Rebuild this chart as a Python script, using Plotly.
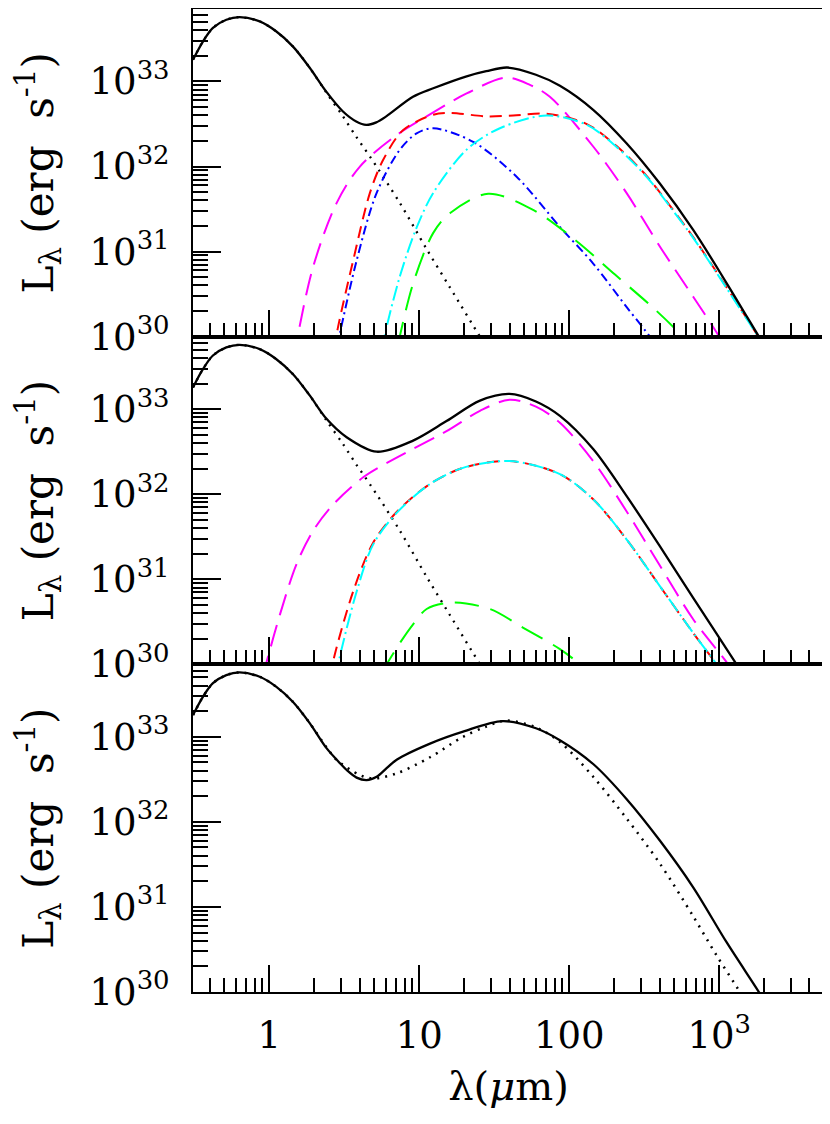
import math
import plotly.graph_objects as go
from plotly.subplots import make_subplots

# wavelengths in micron, luminosities in erg/s

# stellar photosphere (dotted in the top two panels, start of every total curve)
star_wl = [0.31, 0.361, 0.421, 0.517, 0.635, 0.863, 1.11, 1.44, 1.86, 2.40, 3.10, 3.80, 4.69, 7.43, 11.2, 16.0, 25.4, 30]
star_L = [1.80e33, 2.95e33, 4.27e33, 5.32e33, 5.71e33, 5.08e33, 3.89e33, 2.57e33, 1.45e33, 7.41e32, 3.89e32, 2.24e32, 1.31e32, 3.72e31, 1.07e31, 3.80e30, 1.00e30, 6.2e29]

# ---- top panel ----
p1_total_wl = [0.31, 0.361, 0.421, 0.517, 0.635, 0.863, 1.11, 1.44, 1.86, 2.40, 3.10, 3.80, 4.43, 5.17, 6.03, 9.08, 12.4, 20.7, 28, 38.5, 60, 86.7, 144.5, 241, 402, 671, 1120, 1840, 2100]
p1_total_L = [1.80e33, 2.95e33, 4.27e33, 5.32e33, 5.71e33, 5.08e33, 3.89e33, 2.57e33, 1.45e33, 7.59e32, 4.44e32, 3.39e32, 3.09e32, 3.31e32, 3.89e32, 6.61e32, 8.32e32, 1.15e33, 1.32e33, 1.46e33, 1.20e33, 8.91e32, 4.65e32, 1.88e32, 6.31e31, 1.80e31, 4.27e30, 1.00e30, 6.8e29]

p1_mag_wl = [1.45, 1.56, 1.96, 2.81, 4.02, 7.07, 11.2, 20.7, 38, 54.7, 74.3, 144.5, 241, 402, 671, 1000, 1150]
p1_mag_L = [5.6e29, 1.10e30, 6.61e30, 3.72e31, 1.00e32, 2.34e32, 3.89e32, 7.24e32, 1.11e33, 9.12e32, 6.61e32, 1.72e32, 4.90e31, 1.15e31, 2.95e30, 1.00e30, 6.3e29]

p1_red_wl = [2.70, 2.88, 3.63, 4.69, 5.75, 7.82, 12.4, 16.0, 28.1, 42.3, 70.7, 131, 207, 328, 469, 671, 961, 1374, 1820, 2000]
p1_red_L = [7.1e29, 1.32e30, 7.94e30, 4.90e31, 1.20e32, 2.69e32, 4.07e32, 4.27e32, 3.89e32, 3.98e32, 4.17e32, 3.16e32, 1.74e32, 7.76e31, 3.47e31, 1.48e31, 5.75e30, 2.19e30, 1.00e30, 7.4e29]

p1_blue_wl = [2.85, 2.96, 3.83, 5.2, 7.43, 9.6, 12.4, 22.9, 44.6, 86.7, 144.5, 241, 345, 400]
p1_blue_L = [7.9e29, 1.10e30, 7.94e30, 4.90e31, 1.58e32, 2.45e32, 2.82e32, 1.95e32, 7.59e31, 1.95e31, 7.24e30, 2.24e30, 1.00e30, 6.8e29]

p1_cyan_wl = [5.7, 5.9, 7.43, 9.6, 12.4, 20.7, 34.5, 70.7, 131, 207, 328, 469, 671, 961, 1374, 1820, 2000]
p1_cyan_L = [7.1e29, 1.05e30, 5.13e30, 1.91e31, 4.90e31, 1.58e32, 2.82e32, 3.98e32, 3.09e32, 1.70e32, 7.59e31, 3.39e31, 1.45e31, 5.62e30, 2.14e30, 1.00e30, 7.4e29]

p1_green_wl = [7.2, 7.5, 9.12, 12.4, 16.0, 28.8, 57.5, 109, 202, 373, 575, 650]
p1_green_L = [7.9e29, 1.10e30, 4.27e30, 1.66e31, 2.82e31, 4.79e31, 3.09e31, 1.38e31, 5.37e30, 2.09e30, 1.00e30, 7.9e29]

# ---- middle panel ----
p2_total_wl = [0.31, 0.361, 0.421, 0.517, 0.635, 0.863, 1.11, 1.44, 1.86, 2.40, 3.28, 5.2, 9.1, 15.2, 25.4, 40, 60, 86.7, 144.5, 241, 402, 671, 1306, 1500]
p2_total_L = [1.80e33, 2.95e33, 4.27e33, 5.32e33, 5.71e33, 5.08e33, 3.89e33, 2.57e33, 1.45e33, 7.76e32, 4.68e32, 3.16e32, 4.27e32, 7.24e32, 1.26e33, 1.51e33, 1.23e33, 8.32e32, 3.39e32, 9.55e31, 2.45e31, 6.03e30, 1.00e30, 6.8e29]

p2_mag_wl = [0.90, 0.95, 1.18, 1.52, 1.96, 2.67, 4.23, 7.07, 15.2, 25.4, 40, 60, 86.7, 144.5, 241, 402, 671, 1148, 1300]
p2_mag_L = [7.1e29, 1.00e30, 3.89e30, 1.51e31, 3.72e31, 7.59e31, 1.58e32, 2.69e32, 5.50e32, 9.55e32, 1.29e33, 1.07e33, 6.92e32, 2.45e32, 6.31e31, 1.45e31, 3.39e30, 1.00e30, 7.1e29]

p2_red_wl = [2.58, 2.64, 3.63, 4.93, 7.07, 11.8, 19.6, 40, 86.7, 144.5, 241, 402, 671, 961, 1080]
p2_red_L = [7.1e29, 1.00e30, 7.24e30, 2.69e31, 6.17e31, 1.32e32, 2.04e32, 2.45e32, 1.72e32, 8.71e31, 2.95e31, 8.32e30, 2.34e30, 1.00e30, 7.2e29]

p2_cyan_wl = [2.80, 2.88, 3.83, 4.93, 7.07, 11.8, 19.6, 40, 86.7, 144.5, 241, 402, 671, 961, 1080]
p2_cyan_L = [7.1e29, 1.00e30, 7.24e30, 2.57e31, 6.03e31, 1.32e32, 2.04e32, 2.45e32, 1.72e32, 8.71e31, 2.95e31, 8.32e30, 2.34e30, 1.00e30, 7.2e29]

p2_green_wl = [5.6, 6.06, 7.43, 9.1, 11.2, 16.5, 29.6, 49.4, 86.7, 118, 135]
p2_green_L = [7.9e29, 1.00e30, 1.78e30, 2.95e30, 4.47e30, 5.31e30, 4.47e30, 2.69e30, 1.51e30, 1.00e30, 7.9e29]

# ---- bottom panel ----
p3_model_wl = [0.31, 0.361, 0.421, 0.517, 0.635, 0.863, 1.11, 1.44, 1.86, 2.40, 2.96, 3.28, 3.82, 4.46, 5.2, 6.06, 7.07, 11.8, 19.6, 36, 60, 86.7, 144.5, 241, 402, 671, 1120, 1840, 2100]
p3_model_L = [1.80e33, 2.95e33, 4.27e33, 5.32e33, 5.71e33, 5.08e33, 3.89e33, 2.57e33, 1.45e33, 7.41e32, 4.90e32, 4.07e32, 3.31e32, 3.09e32, 3.39e32, 4.27e32, 5.37e32, 8.32e32, 1.15e33, 1.53e33, 1.26e33, 9.12e32, 4.79e32, 1.86e32, 6.03e31, 1.70e31, 3.85e30, 1.00e30, 6.8e29]

p3_other_wl = [0.31, 0.361, 0.421, 0.517, 0.635, 0.863, 1.11, 1.44, 1.86, 2.40, 2.81, 4.02, 4.93, 7.07, 11.8, 19.6, 28, 38, 60, 86.7, 144.5, 241, 402, 671, 961, 1374, 1500]
p3_other_L = [1.80e33, 2.95e33, 4.27e33, 5.32e33, 5.71e33, 5.08e33, 3.89e33, 2.57e33, 1.45e33, 7.59e32, 5.37e32, 3.55e32, 3.24e32, 3.72e32, 5.75e32, 1.00e33, 1.32e33, 1.55e33, 1.29e33, 8.71e32, 3.39e32, 1.10e32, 3.24e31, 7.76e30, 2.69e30, 1.00e30, 7.6e29]

x_tickvals = [1, 10, 100, 1000]
x_ticktext = ["1", "10", "100", "10<sup>3</sup>"]
y_tickvals = [1e30, 1e31, 1e32, 1e33]
y_ticktext = ["10<sup>30</sup>", "10<sup>31</sup>", "10<sup>32</sup>", "10<sup>33</sup>"]

FONT = "DejaVu Serif"
DOT = "2px,6px"
MAG_DASH = "22px,10px"
RED_DASH = "12px,7px"
GREEN_DASH = "24px,12px"
BLUE_DASHDOT = "9px,4px,2px,4px"
CYAN_DASHDOT = "15px,4px,2px,4px"

fig = make_subplots(rows=3, cols=1, shared_xaxes=True, vertical_spacing=0)


def curve(wl, L, color, dash, row, width=2):
    fig.add_trace(go.Scatter(x=wl, y=L, mode="lines",
                             line=dict(color=color, width=width, dash=dash, shape="spline", smoothing=0.9),
                             showlegend=False, hoverinfo="skip"),
                  row=row, col=1)


# top
curve(star_wl, star_L, "black", DOT, 1, 2.3)
curve(p1_mag_wl, p1_mag_L, "#ff00ff", MAG_DASH, 1)
curve(p1_blue_wl, p1_blue_L, "#0000ff", BLUE_DASHDOT, 1)
curve(p1_red_wl, p1_red_L, "#ff0000", RED_DASH, 1)
curve(p1_green_wl, p1_green_L, "#00ff00", GREEN_DASH, 1)
curve(p1_cyan_wl, p1_cyan_L, "#00ffff", CYAN_DASHDOT, 1)
curve(p1_total_wl, p1_total_L, "black", "solid", 1, 2.3)

# middle
curve(star_wl, star_L, "black", DOT, 2, 2.3)
curve(p2_mag_wl, p2_mag_L, "#ff00ff", MAG_DASH, 2)
curve(p2_red_wl, p2_red_L, "#ff0000", RED_DASH, 2)
curve(p2_green_wl, p2_green_L, "#00ff00", GREEN_DASH, 2)
curve(p2_cyan_wl, p2_cyan_L, "#00ffff", CYAN_DASHDOT, 2)
curve(p2_total_wl, p2_total_L, "black", "solid", 2, 2.3)

# bottom
curve(p3_other_wl, p3_other_L, "black", DOT, 3, 2.5)
curve(p3_model_wl, p3_model_L, "black", "solid", 3, 2.3)

x_minor = [m * 10.0 ** d for d in range(-1, 4) for m in range(2, 10)]
y_minor = [m * 10.0 ** d for d in range(30, 34) for m in range(2, 10)]

fig.update_xaxes(type="log", range=[math.log10(0.31), math.log10(5000)],
                 showline=True, linewidth=2, linecolor="black", mirror=True,
                 showgrid=False, zeroline=False, automargin=False,
                 ticks="inside", ticklen=27, tickwidth=2, tickcolor="black",
                 tickmode="array", tickvals=x_tickvals, ticktext=x_ticktext,
                 tickfont=dict(family=FONT, size=37, color="black"),
                 ticklabelstandoff=10,
                 minor=dict(ticks="inside", ticklen=14, tickwidth=2, tickcolor="black",
                            tickvals=x_minor, showgrid=False))
fig.update_xaxes(title=dict(text="λ(<i>μ</i>m)", font=dict(family=FONT, size=40, color="black"), standoff=16),
                 row=3, col=1)

fig.update_yaxes(type="log", range=[30, 33.852],
                 showline=True, linewidth=2, linecolor="black", mirror=True,
                 showgrid=False, zeroline=False, automargin=False,
                 ticks="inside", ticklen=28, tickwidth=2, tickcolor="black",
                 tickmode="array", tickvals=y_tickvals, ticktext=y_ticktext,
                 tickfont=dict(family=FONT, size=37, color="black"),
                 ticklabelstandoff=14,
                 minor=dict(ticks="inside", ticklen=15, tickwidth=2, tickcolor="black",
                            tickvals=y_minor, showgrid=False),
                 title=dict(text="L<sub>λ</sub> (erg  s<sup>-1</sup>)",
                            font=dict(family=FONT, size=42, color="black"), standoff=26))

# the page body adds an 8px offset, so the figure is sized to sit inside the window
fig.update_layout(width=822, height=1116,
                  margin=dict(l=185, r=6, t=1, b=132, autoexpand=False),
                  paper_bgcolor="white", plot_bgcolor="white",
                  font=dict(family=FONT, color="black"),
                  showlegend=False)

fig.write_html("out.html")
